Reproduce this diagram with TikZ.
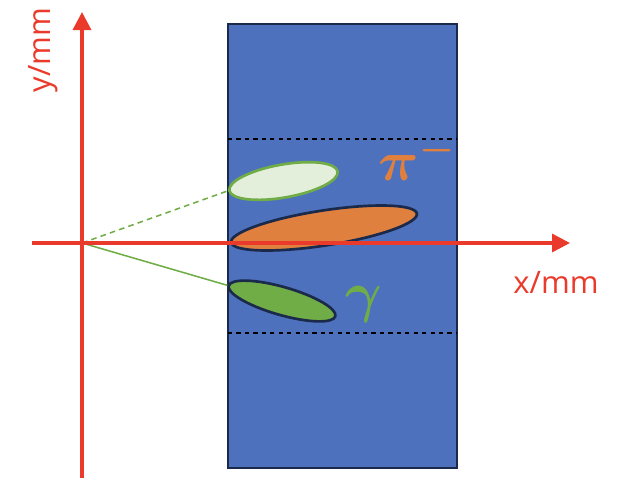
\documentclass[tikz,border=0pt]{standalone}
\usepackage{fix-cm}
\usepackage{fontspec}
\setsansfont{Open Sans}
\usetikzlibrary{arrows.meta,shapes.geometric}
\definecolor{axisred}{HTML}{EA3A2B}
\definecolor{detblue}{HTML}{4E71BE}
\definecolor{navy}{HTML}{1B2A4A}
\definecolor{pionorange}{HTML}{E0803F}
\definecolor{gammagreen}{HTML}{71AD47}
\definecolor{gammatint}{HTML}{E3EFDB}

\begin{document}
\begin{tikzpicture}[
    x=0.025cm, y=-0.025cm,
    axis/.style={axisred, line width=2.4pt, -{Triangle[length=12.8pt, width=12.8pt]}},
    axislabel/.style={axisred, font=\sffamily\fontsize{22}{26}\selectfont, inner sep=0pt},
    detector/.style={rectangle, draw=navy, fill=detblue, line width=1.6pt,
                     minimum width=5.725cm, minimum height=11.1cm, inner sep=0pt},
    cut/.style={black, dashed, line width=0.8pt},
    shower/.style={ellipse, draw=navy, line width=1.9pt, inner sep=0pt},
    ghost/.style={shower, draw=gammagreen, fill=gammatint},
    track/.style={gammagreen, line width=1.1pt},
    symbol/.style={font=\fontsize{40}{48}\selectfont\boldmath, inner sep=0pt}
  ]
  \useasboundingbox (0,0) rectangle (623,481);

  % detector block
  \node[detector] (det) at (342.5,246) {};
  \draw[cut] (228,139) -- (457,139);
  \draw[cut] (228,333) -- (457,333);

  % showers
  \node[ghost, minimum width=110*0.025cm, minimum height=33*0.025cm, rotate=10] (fake) at (283.5,181) {};
  \node[shower, fill=pionorange, minimum width=188*0.025cm, minimum height=35*0.025cm, rotate=8.8] (pion) at (324,228) {};
  \node[shower, fill=gammagreen, minimum width=111*0.025cm, minimum height=28*0.025cm, rotate=-16] (gamma) at (282,301) {};

  \node[symbol, text=pionorange] (pilab) at (417,158) {$\pi^-$};
  \node[symbol, text=gammagreen] (gammalab) at (364,304) {$\gamma$};

  % tracks from the origin
  \coordinate (O) at (82,243);
  \draw[track, dash pattern=on 4pt off 3pt] (O) -- (fake.west);
  \draw[track] (O) -- (gamma.west);

  % axes
  \coordinate (xstart) at (32,243);
  \coordinate (xend) at (570,243);
  \coordinate (ystart) at (82,478);
  \coordinate (yend) at (82,12);
  \draw[axis] (xstart) -- (xend);
  \draw[axis] (ystart) -- (yend);
  \node[axislabel] (xlab) at (556,282) {x/mm};
  \node[axislabel, rotate=90] (ylab) at (43,50) {y/mm};
\end{tikzpicture}
\end{document}
